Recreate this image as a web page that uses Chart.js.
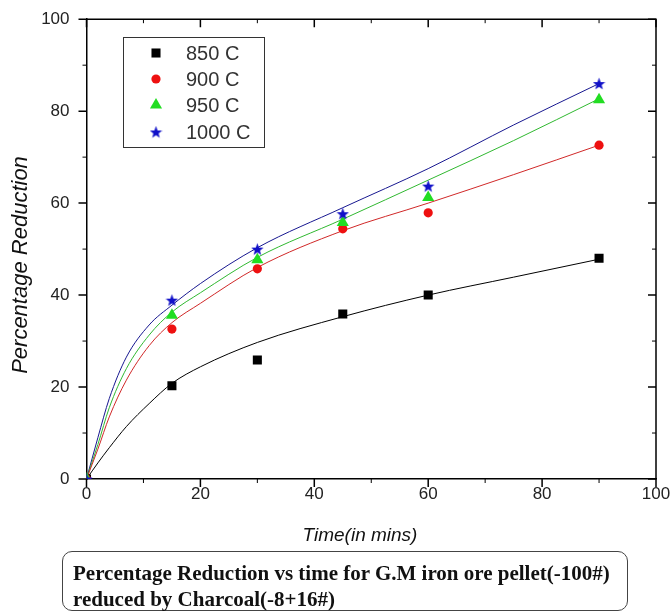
<!DOCTYPE html>
<html>
<head>
<meta charset="utf-8">
<script src="https://cdn.jsdelivr.net/npm/chart.js@4.4.1/dist/chart.umd.min.js"></script>
<style>
  html, body { margin: 0; padding: 0; background: #fff; }
  #wrap { position: relative; width: 670px; height: 616px; }
  #plot { position: absolute; left: 0; top: 0; }
  #caption {
    position: absolute; left: 62px; top: 551px; width: 566px; height: 60px;
    box-sizing: border-box; border: 1px solid #444; border-radius: 10px;
    font-family: "Liberation Serif", "Times New Roman", serif; font-weight: bold;
    font-size: 21px; line-height: 26px; padding: 8px 0 0 10px; color: #111;
    white-space: nowrap;
  }
</style>
</head>
<body>
<div id="wrap">
  <canvas id="plot" width="670" height="616"></canvas>
  <div id="caption">Percentage Reduction vs time for G.M iron ore pellet(-100#)<br>reduced by Charcoal(-8+16#)</div>
</div>
<script>
// measured points
const times = [0, 15, 30, 45, 60, 90];
const r850 = [0, 20.3, 25.9, 35.9, 40.0, 48.0];
const r900 = [0, 32.6, 45.7, 54.4, 57.9, 72.6];
const r950 = [0, 35.6, 47.7, 55.8, 61.2, 82.5];
const r1000 = [0, 38.9, 50.0, 57.7, 63.7, 86.0];

// fitted curves
const fitTimes = [0, 2, 4, 7, 11, 15, 20, 30, 45, 60, 75, 90];
const fit850 = [0, 3.5, 6.8, 11.4, 16.4, 20.8, 24.4, 29.7, 35.3, 40.0, 43.9, 47.8];
const fit900 = [0, 6.5, 13.5, 21.5, 29, 34.0, 38.2, 46.0, 54.0, 60.0, 66.2, 72.6];
const fit950 = [0, 7.5, 15.5, 24, 31.3, 36.3, 40.5, 48.2, 56.5, 65.0, 73.6, 82.7];
const fit1000 = [0, 9, 17.5, 26.5, 33.5, 37.8, 42.5, 50.3, 59.0, 67.5, 77.0, 86.0];

const labels = ['850 C', '900 C', '950 C', '1000 C'];

const toXY = (xs, ys) => xs.map((x, i) => ({ x: x, y: ys[i] }));

// filled five-point star, since the built-in 'star' is only stroked
function starImage(size, color) {
  const c = document.createElement('canvas');
  c.width = c.height = size;
  const g = c.getContext('2d');
  const cx = size / 2, cy = size / 2 + 0.6, R = size / 2, r = R * 0.42;
  g.beginPath();
  for (let i = 0; i < 10; i++) {
    const a = -Math.PI / 2 + i * Math.PI / 5;
    const rad = i % 2 ? r : R;
    g.lineTo(cx + rad * Math.cos(a), cy + rad * Math.sin(a));
  }
  g.closePath();
  g.fillStyle = color;
  g.fill();
  return c;
}
const blueStar = starImage(13, '#1010c8');

const font = 'Liberation Sans, Arial, sans-serif';

function pts(label, data, color, style, radius, order) {
  return {
    label: label, data: data, showLine: false, order: order,
    pointStyle: style, pointRadius: radius, pointHoverRadius: radius,
    backgroundColor: color, borderColor: color, borderWidth: 0
  };
}
function fit(data, color) {
  return {
    data: data, showLine: true, order: 10, pointRadius: 0, pointHoverRadius: 0,
    borderColor: color, borderWidth: 1, cubicInterpolationMode: 'monotone', fill: false
  };
}

// inward/outward tick marks, plus the top and right frame
const frame = {
  id: 'frame',
  afterDraw(chart) {
    const { ctx, chartArea: a, scales: { x, y } } = chart;
    ctx.save();
    ctx.strokeStyle = '#000';
    ctx.lineWidth = 1.5;
    ctx.beginPath();
    ctx.moveTo(a.left, a.top); ctx.lineTo(a.right, a.top); ctx.lineTo(a.right, a.bottom);
    ctx.stroke();
    for (let v = 0; v <= 100; v += 10) {
      const len = v % 20 === 0 ? 8 : 4;
      ctx.lineWidth = v % 20 === 0 ? 1.5 : 1;
      const px = x.getPixelForValue(v), py = y.getPixelForValue(v);
      ctx.beginPath();
      ctx.moveTo(px, a.bottom); ctx.lineTo(px, a.bottom + len);
      ctx.moveTo(px, a.top); ctx.lineTo(px, a.top + len);
      ctx.moveTo(a.left - len, py); ctx.lineTo(a.left, py);
      ctx.moveTo(a.right - len, py); ctx.lineTo(a.right, py);
      ctx.stroke();
    }
    ctx.restore();
  }
};

// axis titles
const titles = {
  id: 'titles',
  afterDraw(chart) {
    const ctx = chart.ctx;
    ctx.save();
    ctx.fillStyle = '#111';
    ctx.textAlign = 'center';
    ctx.textBaseline = 'middle';
    ctx.font = 'italic 19px ' + font;
    ctx.fillText('Time(in mins)', 360, 536);
    ctx.translate(21, 265);
    ctx.rotate(-Math.PI / 2);
    ctx.font = 'italic 22px ' + font;
    ctx.fillText('Percentage Reduction', 0, 0);
    ctx.restore();
  }
};

// boxed legend inside the plot
const boxLegend = {
  id: 'boxLegend',
  afterDraw(chart) {
    const ctx = chart.ctx;
    ctx.save();
    ctx.strokeStyle = '#333';
    ctx.lineWidth = 1;
    ctx.strokeRect(123.5, 37.5, 141, 110);
    const rows = [53, 79, 105, 132];
    ctx.font = '20px ' + font;
    ctx.textBaseline = 'middle';
    ctx.textAlign = 'left';
    for (let i = 0; i < 4; i++) {
      const ds = chart.data.datasets[i];
      ctx.fillStyle = ds.backgroundColor;
      ctx.strokeStyle = ds.borderColor;
      Chart.helpers.drawPoint(ctx, { pointStyle: ds.pointStyle, radius: ds.pointRadius, rotation: 0, borderWidth: 0 }, 156, rows[i]);
      ctx.fillStyle = '#333';
      ctx.fillText(ds.label, 186, rows[i] + 1);
    }
    ctx.restore();
  }
};

new Chart(document.getElementById('plot'), {
  type: 'scatter',
  data: {
    datasets: [
      pts(labels[0], toXY(times, r850), '#000000', 'rect', 6.4, 3),
      pts(labels[1], toXY(times, r900), '#ee1010', 'circle', 4.6, 2),
      pts(labels[2], toXY(times, r950), '#22dd22', 'triangle', 7, 1),
      pts(labels[3], toXY(times, r1000), '#1010c8', blueStar, 6.5, 0),
      fit(toXY(fitTimes, fit850), '#000000'),
      fit(toXY(fitTimes, fit900), '#d02828'),
      fit(toXY(fitTimes, fit950), '#30b830'),
      fit(toXY(fitTimes, fit1000), '#181890')
    ]
  },
  options: {
    responsive: false,
    animation: false,
    events: [],
    layout: { padding: { top: 16, right: 14, left: 0, bottom: 107 } },
    plugins: { legend: { display: false }, tooltip: { enabled: false } },
    scales: {
      x: {
        type: 'linear', min: 0, max: 100,
        afterFit(s) { s.height = 30; },
        border: { color: '#000', width: 1.5 },
        grid: { drawOnChartArea: false, drawTicks: true, tickLength: 8, color: 'rgba(0,0,0,0)' },
        ticks: {
          stepSize: 10, padding: -3, color: '#222', font: { family: font, size: 17 },
          maxRotation: 0, autoSkip: false,
          callback: v => (v % 20 === 0 ? v : '')
        }
      },
      y: {
        type: 'linear', min: 0, max: 100,
        afterFit(s) { s.width = 86.5; },
        border: { color: '#000', width: 1.5 },
        grid: { drawOnChartArea: false, drawTicks: true, tickLength: 8, color: 'rgba(0,0,0,0)' },
        ticks: {
          stepSize: 10, padding: 9, color: '#222', font: { family: font, size: 17 },
          callback: v => (v % 20 === 0 ? v : '')
        }
      }
    }
  },
  plugins: [frame, titles, boxLegend]
});
</script>
</body>
</html>
